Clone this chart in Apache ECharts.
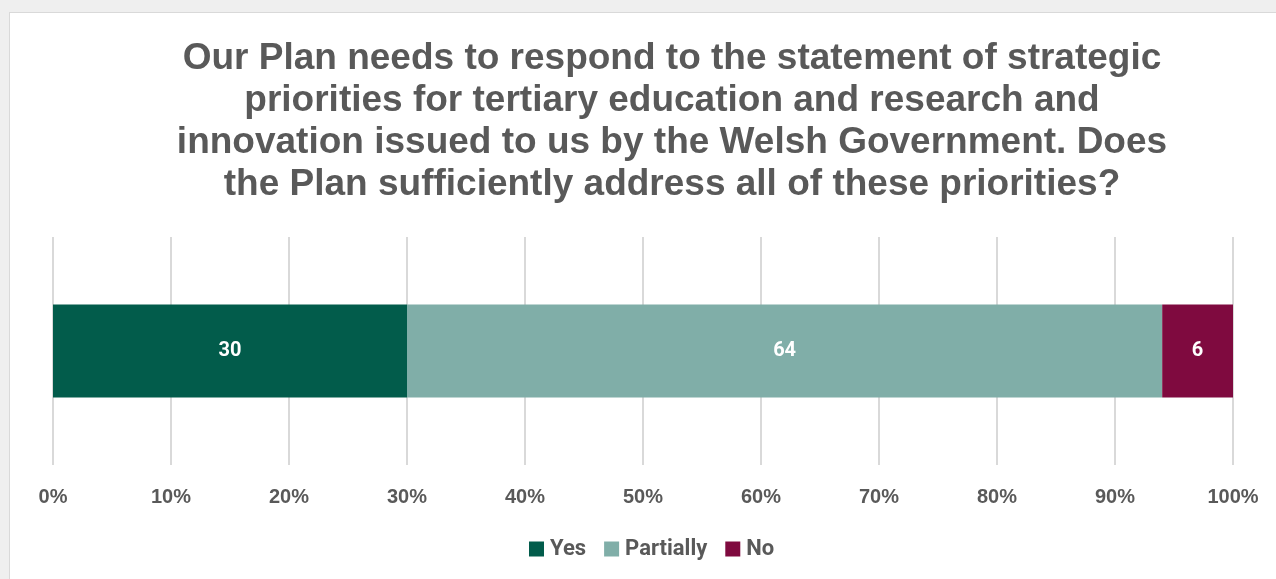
<!DOCTYPE html>
<html>
<head>
<meta charset="utf-8">
<script src="https://cdn.jsdelivr.net/npm/echarts@6/dist/echarts.min.js"></script>
<style>
  html, body { margin: 0; padding: 0; background: #efefef; overflow: hidden; }
  #chart {
    position: absolute; left: 9px; top: 12px;
    width: 1266px; height: 566px;
    background: #ffffff;
    border-left: 1px solid #d9d9d9; border-top: 1px solid #d9d9d9;
  }
</style>
</head>
<body>
<div id="chart"></div>
<script>
// Survey response shares (%) for the single question
const categories = ['Q'];
const seriesNames = ['Yes', 'Partially', 'No'];
const yesValues = [30];
const partiallyValues = [64];
const noValues = [6];
const colors = ['#025C4B', '#80AEA8', '#7F0A3F'];

const titleText = 'Our Plan needs to respond to the statement of strategic\n' +
  'priorities for tertiary education and research and\n' +
  'innovation issued to us by the Welsh Government. Does\n' +
  'the Plan sufficiently address all of these priorities?';

const chart = echarts.init(document.getElementById('chart'));

function barSeries(name, data, color) {
  return {
    name: name,
    type: 'bar',
    stack: 'total',
    data: data,
    barWidth: 93,
    itemStyle: { color: color },
    label: {
      show: true,
      position: 'inside',
      color: '#ffffff',
      fontFamily: 'Roboto, Liberation Sans, sans-serif',
      fontWeight: 'bold',
      fontSize: 20
    },
    emphasis: { disabled: true }
  };
}

chart.setOption({
  animation: false,
  title: {
    text: titleText,
    left: 657,
    top: 20,
    textAlign: 'center',
    textStyle: {
      fontFamily: 'Liberation Sans, Arial, sans-serif',
      fontWeight: 'bold',
      fontSize: 37,
      lineHeight: 42,
      color: '#595959'
    }
  },
  grid: { left: 43, width: 1180, top: 224, height: 228 },
  xAxis: {
    type: 'value',
    min: 0, max: 100, interval: 10,
    axisLine: { show: false },
    axisTick: { show: false },
    splitLine: { lineStyle: { color: '#d9d9d9', width: 2 } },
    axisLabel: {
      formatter: '{value}%',
      margin: 22,
      color: '#595959',
      fontFamily: 'Liberation Sans, Arial, sans-serif',
      fontWeight: 'bold',
      fontSize: 20
    }
  },
  yAxis: {
    type: 'category',
    data: categories,
    axisLine: { show: false },
    axisTick: { show: false },
    axisLabel: { show: false }
  },
  legend: {
    data: seriesNames,
    bottom: 14,
    left: 514,
    icon: 'rect',
    itemWidth: 15,
    itemHeight: 15,
    itemGap: 18,
    selectedMode: false,
    textStyle: {
      color: '#595959',
      fontFamily: 'Roboto, Liberation Sans, sans-serif',
      fontWeight: 'bold',
      fontSize: 22,
      padding: [0, 0, 0, 1]
    }
  },
  series: [
    barSeries(seriesNames[0], yesValues, colors[0]),
    barSeries(seriesNames[1], partiallyValues, colors[1]),
    barSeries(seriesNames[2], noValues, colors[2])
  ]
});
</script>
</body>
</html>
